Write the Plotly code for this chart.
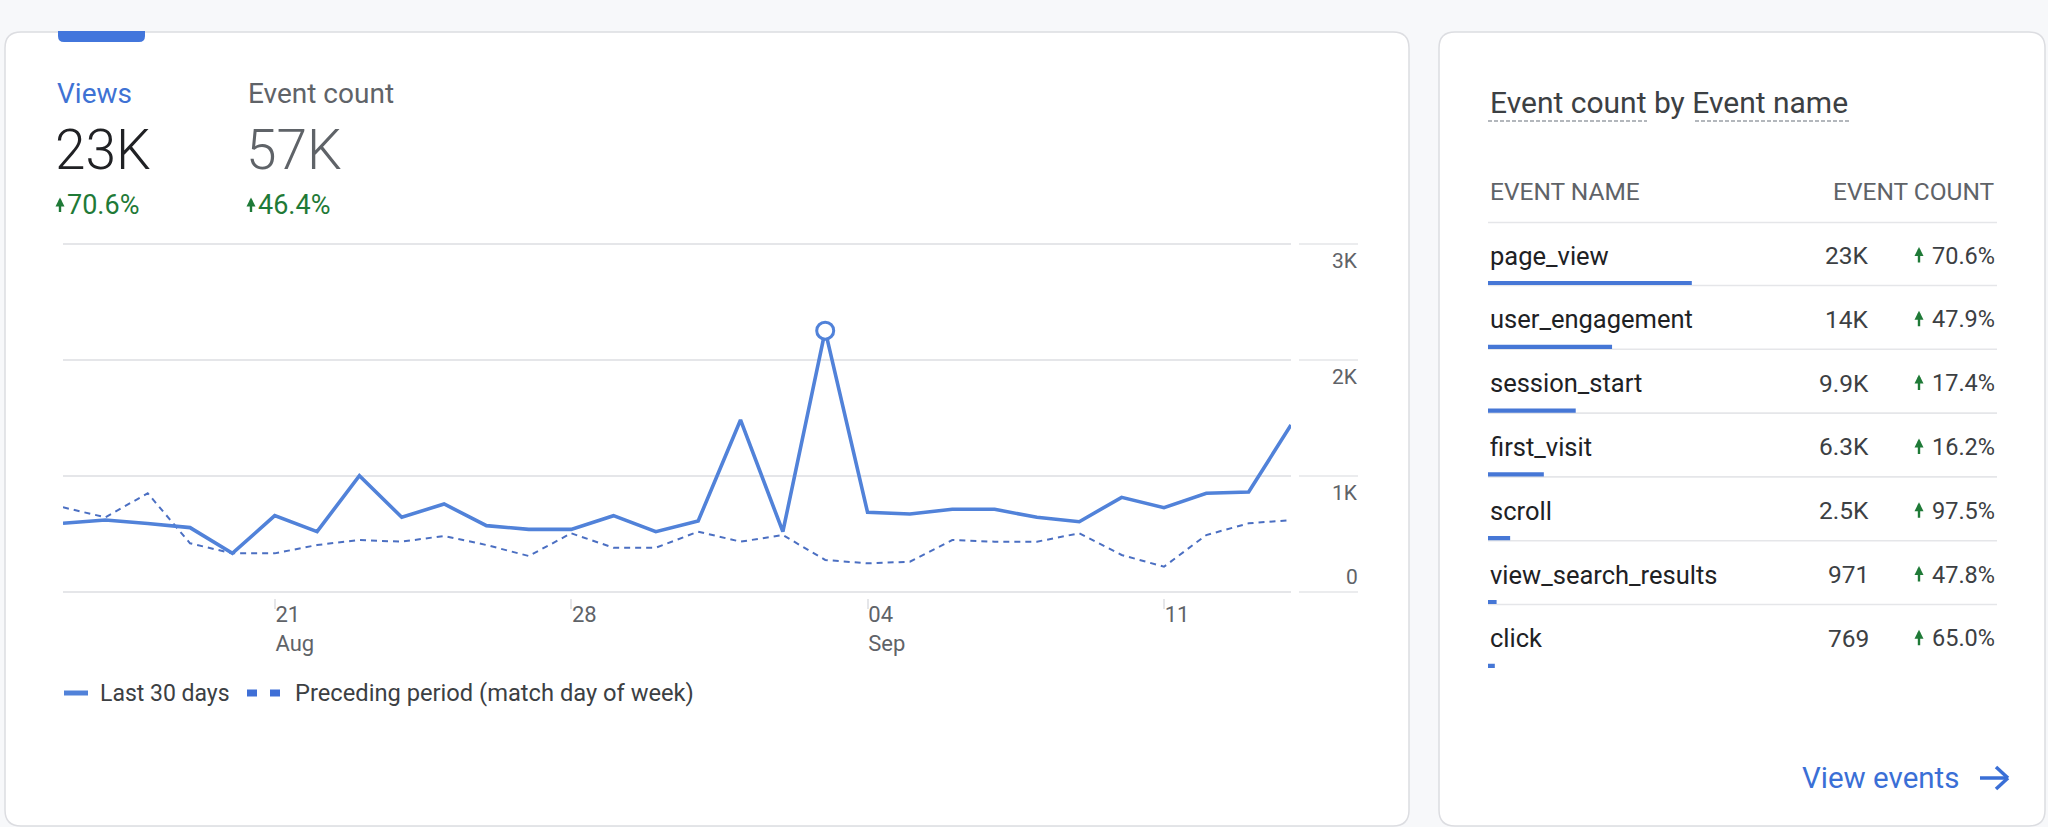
import plotly.graph_objects as go
import pandas as pd

W, H = 2048, 827

# ---------------- data ----------------
dates = pd.date_range("2023-08-16", periods=30, freq="D")
last_30_days = [592, 620, 590, 555, 333, 658, 520, 1003, 644, 759, 572, 540, 540, 658, 520, 612,
                1483, 520, 2253, 687, 672, 713, 713, 644, 606, 816, 727, 851, 862, 1440]
preceding_period = [730, 644, 851, 420, 333, 333, 405, 448, 434, 483, 405, 310, 506, 382, 382, 520,
                    434, 491, 276, 247, 261, 448, 434, 434, 506, 319, 218, 491, 592, 620]
series_names = ["Last 30 days", "Preceding period (match day of week)"]

y_tick_vals = [0, 1000, 2000, 3000]
y_tick_text = ["0", "1K", "2K", "3K"]
x_tick_vals = ["2023-08-21", "2023-08-28", "2023-09-04", "2023-09-11"]
x_tick_text = ["21<br>Aug", "28", "04<br>Sep", "11"]

kpi_labels = ["Views", "Event count"]
kpi_values = [23000, 57000]
kpi_changes = [70.6, 46.4]

event_names = ["page_view", "user_engagement", "session_start", "first_visit",
               "scroll", "view_search_results", "click"]
event_counts = [23000, 14000, 9900, 6300, 2500, 971, 769]
event_changes = [70.6, 47.9, 17.4, 16.2, 97.5, 47.8, 65.0]

# ---------------- style ----------------
FONT = "Roboto"
BLUE = "#5182d9"
DASH = "#4b6fc2"
BAR = "#4677d6"
LINK = "#3a6fd6"
GREEN = "#1f7a37"
DARK = "#202124"
TEXT = "#3c4043"
GRAY = "#5f6368"
GRID = "#e5e6e9"
BORDER = "#dcdde1"
PAGE = "#f7f8fa"


def fx(p):
    return p / W


def fy(p):
    return 1 - p / H


def kfmt(v):
    if v >= 10000:
        return f"{v / 1000:.0f}K"
    if v >= 1000:
        return f"{v / 1000:.1f}K"
    return f"{v}"


annotations = []
shapes = []


def txt(x, y, text, size, color, xanchor="left", yanchor="middle", weight=None,
        xref="paper", yref="paper", yshift=0, family=FONT):
    font = dict(family=family, size=size, color=color)
    if weight:
        font["weight"] = weight
    annotations.append(dict(x=x, y=y, xref=xref, yref=yref, text=text, showarrow=False,
                            xanchor=xanchor, yanchor=yanchor, font=font, yshift=yshift))


def up_arrow(cx, cy, length, color=GREEN, width=2.4):
    # small "increase" arrow: tip at top, tail at bottom (pixel coordinates)
    annotations.append(dict(x=fx(cx), y=fy(cy - length / 2), xref="paper", yref="paper",
                            ax=0, ay=length, text="", showarrow=True, arrowhead=2,
                            arrowsize=0.75, arrowwidth=width, arrowcolor=color, standoff=0))


def rounded_rect(x0, y0, x1, y1, r, fill, line, lw=1.5):
    rx, ry = r / W, r / H
    X0, X1, Y0, Y1 = fx(x0), fx(x1), fy(y0), fy(y1)
    path = (f"M {X0 + rx} {Y0} L {X1 - rx} {Y0} Q {X1} {Y0} {X1} {Y0 - ry} "
            f"L {X1} {Y1 + ry} Q {X1} {Y1} {X1 - rx} {Y1} L {X0 + rx} {Y1} "
            f"Q {X0} {Y1} {X0} {Y1 + ry} L {X0} {Y0 - ry} Q {X0} {Y0} {X0 + rx} {Y0} Z")
    shapes.append(dict(type="path", path=path, xref="paper", yref="paper",
                       fillcolor=fill, line=dict(color=line, width=lw), layer="below"))


# cards
rounded_rect(5, 32, 1409, 826, 16, "white", BORDER)
rounded_rect(1439, 32, 2045, 826, 16, "white", BORDER)

# blue tab on top of the first KPI
tx0, tx1, ty0, ty1, tr = 58, 145, 31, 42, 6
shapes.append(dict(type="path", xref="paper", yref="paper", layer="below",
                   path=(f"M {fx(tx0)} {fy(ty0)} L {fx(tx1)} {fy(ty0)} L {fx(tx1)} {fy(ty1 - tr)} "
                         f"Q {fx(tx1)} {fy(ty1)} {fx(tx1 - tr)} {fy(ty1)} L {fx(tx0 + tr)} {fy(ty1)} "
                         f"Q {fx(tx0)} {fy(ty1)} {fx(tx0)} {fy(ty1 - tr)} Z"),
                   fillcolor="#4276dc", line=dict(width=0)))

# ---------------- KPIs ----------------
kpi_x = [55, 246]
kpi_label_colors = ["#3f72d4", GRAY]
kpi_value_colors = [DARK, GRAY]
for i in range(len(kpi_labels)):
    txt(fx(kpi_x[i]), fy(94), kpi_labels[i], 28, kpi_label_colors[i])
    txt(fx(kpi_x[i] - 2), fy(150), kfmt(kpi_values[i]), 55, kpi_value_colors[i], weight=300)
    up_arrow(kpi_x[i] + 5, 205.5, 16)
    txt(fx(kpi_x[i] + 10), fy(205), f"{kpi_changes[i]:.1f}%", 27, GREEN)

# ---------------- line chart ----------------
PLOT_L, PLOT_R = 63, 1291
Y0_PX, PX_PER_UNIT = 592, 0.116
y_lo, y_hi = -50, 3050
dom_bottom = fy(Y0_PX - PX_PER_UNIT * y_lo)
dom_top = fy(Y0_PX - PX_PER_UNIT * y_hi)

fig = go.Figure()
fig.add_trace(go.Scatter(x=dates, y=preceding_period, mode="lines", name=series_names[1],
                         line=dict(color=DASH, width=2, dash="6px,5px"),
                         showlegend=False, hoverinfo="skip"))
fig.add_trace(go.Scatter(x=dates, y=last_30_days, mode="lines", name=series_names[0],
                         line=dict(color=BLUE, width=3.6),
                         showlegend=False, hoverinfo="skip"))
peak = max(range(len(last_30_days)), key=lambda k: last_30_days[k])
fig.add_trace(go.Scatter(x=[dates[peak]], y=[last_30_days[peak]], mode="markers",
                         marker=dict(size=17, color="white", line=dict(color=BLUE, width=3)),
                         showlegend=False, hoverinfo="skip", cliponaxis=False))

# right-side grid stubs and y labels
for v, t in zip(y_tick_vals, y_tick_text):
    shapes.append(dict(type="line", xref="paper", yref="y", x0=fx(1299), x1=fx(1358), y0=v, y1=v,
                       line=dict(color=GRID, width=1.6), layer="below"))
    txt(fx(1360), v, t, 21, GRAY, xanchor="right", yref="y",
        yshift=(15 if v == 0 else -17))

# legend (drawn)
shapes.append(dict(type="line", xref="paper", yref="paper", x0=fx(64), x1=fx(88),
                   y0=fy(693), y1=fy(693), line=dict(color=BLUE, width=5)))
txt(fx(98), fy(693), series_names[0], 23, TEXT)
for sx in (247, 270):
    shapes.append(dict(type="rect", xref="paper", yref="paper", x0=fx(sx), x1=fx(sx + 10),
                       y0=fy(689.5), y1=fy(696.5), fillcolor="#3f6fd6", line=dict(width=0)))
txt(fx(293), fy(693), series_names[1], 23.7, TEXT)

# ---------------- event table ----------------
TBL_L, TBL_R = 1488, 1997
ROW0, ROWH = 283, 63.8
TEXT_UP = 27.5
n = len(event_names)
y2_top = ROW0 - ROWH / 2
y2_bot = ROW0 + (n - 1) * ROWH + ROWH / 2

txt(fx(1488), fy(102), "Event count by Event name", 30, TEXT)
for a, b in ((1488, 1647), (1695, 1851)):
    shapes.append(dict(type="line", xref="paper", yref="paper", x0=fx(a), x1=fx(b),
                       y0=fy(121), y1=fy(121), line=dict(color="#9aa0a6", width=1.5, dash="4px,2px")))
txt(fx(TBL_L), fy(192), "EVENT NAME", 24.5, GRAY)
txt(fx(TBL_R), fy(192), "EVENT COUNT", 24.5, GRAY, xanchor="right")
shapes.append(dict(type="line", xref="paper", yref="paper", x0=fx(TBL_L), x1=fx(TBL_R),
                   y0=fy(222.5), y1=fy(222.5), line=dict(color=GRID, width=1.6), layer="below"))

for i in range(n):
    if i < n - 1:
        shapes.append(dict(type="line", xref="paper", yref="y2", x0=fx(TBL_L), x1=fx(TBL_R),
                           y0=i + 2.5 / ROWH, y1=i + 2.5 / ROWH,
                           line=dict(color=GRID, width=1.6), layer="below"))
    txt(fx(TBL_L), i, event_names[i], 25.5, DARK, yref="y2", yshift=TEXT_UP)
    txt(fx(1871), i, kfmt(event_counts[i]), 24.5, TEXT, xanchor="right", yref="y2", yshift=TEXT_UP)
    up_arrow(1919, ROW0 + i * ROWH - TEXT_UP, 17)
    txt(fx(TBL_R), i, f"{event_changes[i]:.1f}%", 23.5, TEXT, xanchor="right", yref="y2",
        yshift=TEXT_UP)

fig.add_trace(go.Bar(x=event_counts, y=list(range(n)), orientation="h", xaxis="x2", yaxis="y2",
                     width=4.2 / ROWH, marker=dict(color=BAR, line=dict(width=0)),
                     showlegend=False, hoverinfo="skip"))

# View events link
txt(fx(1961), fy(778), "View events", 29.5, LINK, xanchor="right")
for seg in (((1980, 778), (2008, 778)), ((1996, 767), (2008, 778)), ((1996, 789), (2008, 778))):
    shapes.append(dict(type="line", xref="paper", yref="paper",
                       x0=fx(seg[0][0]), y0=fy(seg[0][1]), x1=fx(seg[1][0]), y1=fy(seg[1][1]),
                       line=dict(color=LINK, width=3.5)))

fig.update_layout(
    width=W, height=H, margin=dict(l=0, r=0, t=0, b=0),
    paper_bgcolor=PAGE, plot_bgcolor="rgba(0,0,0,0)",
    font=dict(family=FONT, color=TEXT),
    showlegend=False,
    xaxis=dict(domain=[fx(PLOT_L), fx(PLOT_R)], range=[dates[0], dates[-1]], type="date",
               showgrid=False, zeroline=False, showline=False,
               tickvals=x_tick_vals, ticktext=x_tick_text, ticks="outside", ticklen=10,
               tickwidth=1.5, tickcolor=GRID, ticklabelposition="outside right",
               ticklabelstandoff=-3,
               tickfont=dict(family=FONT, size=22, color=GRAY), fixedrange=True),
    yaxis=dict(domain=[dom_bottom, dom_top], range=[y_lo, y_hi], tickvals=y_tick_vals,
               showticklabels=False, showgrid=True, gridcolor=GRID, gridwidth=1.6,
               zeroline=False, showline=False, fixedrange=True),
    xaxis2=dict(domain=[fx(TBL_L), fx(TBL_R)], range=[0, sum(event_counts)], visible=False,
                anchor="y2", fixedrange=True),
    yaxis2=dict(domain=[fy(y2_bot), fy(y2_top)], range=[n - 0.5, -0.5], visible=False,
                anchor="x2", fixedrange=True),
    annotations=annotations, shapes=shapes,
)

fig.write_html("out.html", config={"displayModeBar": False},
               post_script="document.body.style.margin='0';document.body.style.overflow='hidden';")
